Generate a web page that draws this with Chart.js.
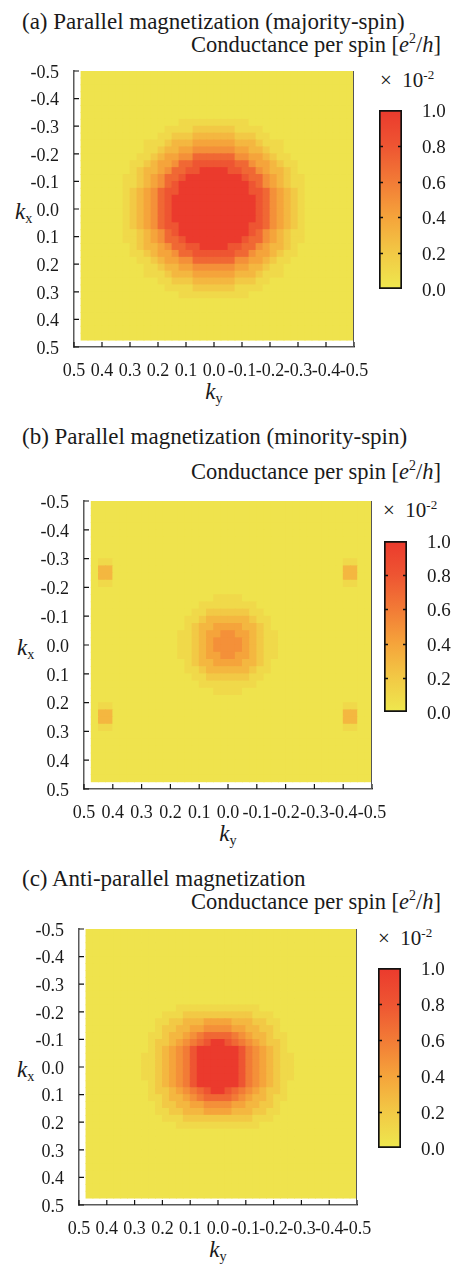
<!DOCTYPE html>
<html><head><meta charset="utf-8">
<script src="https://cdn.jsdelivr.net/npm/chart.js@4.4.1/dist/chart.umd.min.js"></script>
<style>
html,body{margin:0;padding:0;background:#fff}
body{width:459px;height:1264px;position:relative;overflow:hidden;font-family:"Liberation Serif","Times New Roman",Times,serif;color:#1a1a1a}
.t{position:absolute;white-space:nowrap;line-height:1}
.t sup{font-size:0.62em;vertical-align:0.62em;line-height:0}
.t sub{font-size:0.62em;vertical-align:-0.28em;line-height:0}
canvas{position:absolute;display:block}
</style></head><body>
<script>
// ---------------- DATA ----------------
// cell centres along k_x (rows, top -> bottom) and k_y (columns, left -> right)
const kxRows = [-0.4875,-0.4625,-0.4375,-0.4125,-0.3875,-0.3625,-0.3375,-0.3125,-0.2875,-0.2625,-0.2375,-0.2125,-0.1875,-0.1625,-0.1375,-0.1125,-0.0875,-0.0625,-0.0375,-0.0125,0.0125,0.0375,0.0625,0.0875,0.1125,0.1375,0.1625,0.1875,0.2125,0.2375,0.2625,0.2875,0.3125,0.3375,0.3625,0.3875,0.4125,0.4375,0.4625];
const kyCols = [0.4625,0.4375,0.4125,0.3875,0.3625,0.3375,0.3125,0.2875,0.2625,0.2375,0.2125,0.1875,0.1625,0.1375,0.1125,0.0875,0.0625,0.0375,0.0125,-0.0125,-0.0375,-0.0625,-0.0875,-0.1125,-0.1375,-0.1625,-0.1875,-0.2125,-0.2375,-0.2625,-0.2875,-0.3125,-0.3375,-0.3625,-0.3875,-0.4125,-0.4375,-0.4625,-0.4875];
const axisTicks = [-0.5,-0.4,-0.3,-0.2,-0.1,0,0.1,0.2,0.3,0.4,0.5];
const cbarTicks = [0,0.2,0.4,0.6,0.8,1.0];
// cell level codes -> conductance (x 10^-2 e^2/h)
const levelCodes  = "0123456789a";
const levelValues = [0.03,0.1,0.2,0.3,0.4,0.5,0.6,0.7,0.8,0.9,1.0];
// colour map
const cmapStops  = [0, 0.2, 0.4, 0.6, 0.8, 1.0];
const cmapColors = ['#EEE84E','#F2C945','#F5A43B','#F27B36','#EE5532','#EB3A2D'];

const Z = "000000000000000000000000000000000000000";
// (a) majority spin
const rowsA = [
Z,Z,Z,Z,Z,Z,Z,
"00000000000000"+"11111"+"11111"+"000000000000000",
"000000000000"+"1111222"+"2221111"+"0000000000000",
"00000000000"+"11222333"+"33322211"+"000000000000",
"000000000"+"1112333444"+"4443332111"+"0000000000",
"000000000"+"1123344555"+"5554433211"+"0000000000",
"00000000"+"11234455777"+"77755443211"+"000000000",
"0000000"+"112344577888"+"888775443211"+"00000000",
"0000000"+"1233457788aa"+"aa8877543321"+"00000000",
"000000"+"112345778aaaa"+"aaaa877543211"+"0000000",
"000000"+"11234578aaaaa"+"aaaaa87543211"+"0000000",
"000000"+"12345788aaaaa"+"aaaaa88754321"+"0000000",
"000000"+"1234578aaaaaa"+"aaaaaa8754321"+"0000000",
"000000"+"1234578aaaaaa"+"aaaaaa8754321"+"0000000",
"000000"+"1234578aaaaaa"+"aaaaaa8754321"+"0000000",
"000000"+"1234578aaaaaa"+"aaaaaa8754321"+"0000000",
"000000"+"12345788aaaaa"+"aaaaa88754321"+"0000000",
"000000"+"11234578aaaaa"+"aaaaa87543211"+"0000000",
"000000"+"112345778aaaa"+"aaaa877543211"+"0000000",
"0000000"+"1233457788aa"+"aa8877543321"+"00000000",
"0000000"+"112344577888"+"888775443211"+"00000000",
"00000000"+"11234455777"+"77755443211"+"000000000",
"000000000"+"1123344555"+"5554433211"+"0000000000",
"000000000"+"1112333444"+"4443332111"+"0000000000",
"00000000000"+"11222333"+"33322211"+"000000000000",
"000000000000"+"1111222"+"2221111"+"0000000000000",
"00000000000000"+"11111"+"11111"+"000000000000000",
Z,Z,Z,Z,Z,Z
];
// (b) minority spin
const rowsB = [
Z,Z,Z,Z,Z,Z,Z,Z,
"011"+"00000000000000000000000000000000"+"1100",
"033"+"00000000000000000000000000000000"+"3300",
"033"+"00000000000000000000000000000000"+"3300",
"011"+"00000000000000000000000000000000"+"1100",
Z,
"00000000000000000"+"11"+"11"+"000000000000000000",
"000000000000000"+"1111"+"1111"+"0000000000000000",
"00000000000000"+"11222"+"22211"+"000000000000000",
"0000000000000"+"112333"+"333211"+"00000000000000",
"0000000000000"+"123344"+"443321"+"00000000000000",
"000000000000"+"1123445"+"5443211"+"0000000000000",
"000000000000"+"1123455"+"5543211"+"0000000000000",
"000000000000"+"1123455"+"5543211"+"0000000000000",
"000000000000"+"1123445"+"5443211"+"0000000000000",
"0000000000000"+"123344"+"443321"+"00000000000000",
"0000000000000"+"112333"+"333211"+"00000000000000",
"00000000000000"+"11222"+"22211"+"000000000000000",
"000000000000000"+"1111"+"1111"+"0000000000000000",
"00000000000000000"+"11"+"11"+"000000000000000000",
Z,
"011"+"00000000000000000000000000000000"+"1100",
"033"+"00000000000000000000000000000000"+"3300",
"033"+"00000000000000000000000000000000"+"3300",
"011"+"00000000000000000000000000000000"+"1100",
Z,Z,Z,Z,Z,Z,Z
];
// (c) anti-parallel
const rowsC = [
Z,Z,Z,Z,Z,Z,Z,Z,Z,Z,Z,
"0000000000000"+"111111"+"111111"+"00000000000000",
"00000000000"+"11122222"+"22222111"+"000000000000",
"0000000000"+"112233344"+"443332211"+"00000000000",
"0000000000"+"122334455"+"554433221"+"00000000000",
"000000000"+"1123345677"+"7765433211"+"0000000000",
"000000000"+"122345678a"+"a876543221"+"0000000000",
"000000000"+"1234568aaa"+"aaa8654321"+"0000000000",
"00000000"+"11234568aaa"+"aaa86543211"+"000000000",
"00000000"+"11234568aaa"+"aaa86543211"+"000000000",
"00000000"+"11234568aaa"+"aaa86543211"+"000000000",
"00000000"+"11234568aaa"+"aaa86543211"+"000000000",
"000000000"+"1234568aaa"+"aaa8654321"+"0000000000",
"000000000"+"122345678a"+"a876543221"+"0000000000",
"000000000"+"1123345677"+"7765433211"+"0000000000",
"0000000000"+"122334455"+"554433221"+"00000000000",
"0000000000"+"112233344"+"443332211"+"00000000000",
"00000000000"+"11122222"+"22222111"+"000000000000",
"0000000000000"+"111111"+"111111"+"00000000000000",
Z,Z,Z,Z,Z,Z,Z,Z,Z,Z
];

// ---------------- LAYOUT ----------------
const FONT = "'Liberation Serif','Times New Roman',serif";
const TXT = '#1a1a1a';
const panels = [
  {rows:rowsA, title:'(a) Parallel magnetization (majority-spin)',
   plot:{l:74,r:354,t:71,b:347}, cbar:{l:379,r:402,t:110,b:289},
   titleY:22, condY:46, timesX:380, timesY:81, kxX:15, kyY:392},
  {rows:rowsB, title:'(b) Parallel magnetization (minority-spin)',
   plot:{l:84,r:372,t:501,b:789}, cbar:{l:384,r:407,t:541,b:712},
   titleY:437, condY:473, timesX:383, timesY:511, kxX:17, kyY:834},
  {rows:rowsC, title:'(c) Anti-parallel magnetization',
   plot:{l:79,r:357,t:929,b:1205}, cbar:{l:378,r:401,t:968,b:1148},
   titleY:879, condY:903, timesX:378, timesY:939, kxX:17, kyY:1250}
];

// ---------------- HELPERS ----------------
function hexRgb(h){return [parseInt(h.slice(1,3),16),parseInt(h.slice(3,5),16),parseInt(h.slice(5,7),16)];}
const cmapRgb = cmapColors.map(hexRgb);
function colorFor(v){
  v = Math.max(0, Math.min(1, v));
  for (let i = 1; i < cmapStops.length; i++) {
    if (v <= cmapStops[i]) {
      const f = (v - cmapStops[i-1]) / (cmapStops[i] - cmapStops[i-1]);
      const a = cmapRgb[i-1], b = cmapRgb[i];
      return 'rgb(' + a.map((c,k)=>Math.round(c + (b[k]-c)*f)).join(',') + ')';
    }
  }
  return cmapColors[cmapColors.length-1];
}
function fmt(v){ const r = Math.round(v*10)/10; return (Math.abs(r) < 1e-9 ? 0 : r).toFixed(1); }
function addText(html, o){
  const d = document.createElement('div');
  d.className = 't';
  d.innerHTML = html;
  d.style.fontSize = o.size + 'px';
  d.style.top = (o.cy - 0.52*o.size) + 'px';
  if (o.left !== undefined) d.style.left = o.left + 'px';
  if (o.right !== undefined) d.style.right = o.right + 'px';
  if (o.cx !== undefined) { d.style.left = o.cx + 'px'; d.style.transform = 'translateX(-50%)'; }
  document.body.appendChild(d);
}
function makeCanvas(left, top, w, h){
  const cv = document.createElement('canvas');
  cv.width = w; cv.height = h;
  cv.style.left = left + 'px'; cv.style.top = top + 'px';
  cv.style.width = w + 'px'; cv.style.height = h + 'px';
  document.body.appendChild(cv);
  return cv;
}

const frameTicks = {
  id:'frameTicks',
  afterDatasetsDraw(chart){
    const {ctx, chartArea:a, scales:{x, y}} = chart;
    ctx.save();
    ctx.strokeStyle = '#111'; ctx.lineWidth = 1.2;
    ctx.beginPath();
    x.ticks.forEach(t => { const px = x.getPixelForValue(t.value); ctx.moveTo(px, a.bottom); ctx.lineTo(px, a.bottom - 5); });
    y.ticks.forEach(t => { const py = y.getPixelForValue(t.value); ctx.moveTo(a.left, py); ctx.lineTo(a.left + 5, py); });
    ctx.stroke();
    ctx.strokeStyle = '#555'; ctx.lineWidth = 1;
    const rx = Math.round(x.getPixelForValue(axisTicks[0])) - 0.5;
    ctx.beginPath(); ctx.moveTo(rx, a.top); ctx.lineTo(rx, a.bottom); ctx.stroke();
    ctx.restore();
  }
};
const cbarInnerTicks = {
  id:'cbarInnerTicks',
  afterDatasetsDraw(chart){
    const {ctx, chartArea:a, scales:{y}} = chart;
    ctx.save(); ctx.strokeStyle = '#111'; ctx.lineWidth = 1.3;
    ctx.beginPath();
    cbarTicks.slice(1, -1).forEach(v => {
      const py = Math.round(y.getPixelForValue(v)) + 0.5;
      ctx.moveTo(a.left, py); ctx.lineTo(a.left + 4, py);
      ctx.moveTo(a.right, py); ctx.lineTo(a.right - 4, py);
    });
    ctx.stroke(); ctx.restore();
  }
};

Chart.defaults.font.family = FONT;
Chart.defaults.color = TXT;

function heatChart(p){
  const padTop = 25, padBot = 5, xAxH = 30, yAxW = 60;
  const top = p.plot.t - padTop;
  const H = (p.plot.b - p.plot.t) + padTop + xAxH + padBot;
  const cv = makeCanvas(0, top, 459, H);
  const pts = [];
  p.rows.forEach((row, i) => {
    const r = (row + Z).slice(0, kyCols.length);
    for (let j = 0; j < kyCols.length; j++) {
      const idx = Math.max(0, levelCodes.indexOf(r[j]));
      pts.push({x: kyCols[j], y: kxRows[i], v: levelValues[idx]});
    }
  });
  const cell = Math.abs(kyCols[1] - kyCols[0]);
  const tickFont = {family: FONT, size: 18};
  new Chart(cv, {
    type: 'scatter',
    data: {datasets: [{
      data: pts,
      pointStyle: 'rect',
      pointBorderWidth: 0,
      pointRadius: ctx => {
        const xs = ctx.chart.scales.x, ys = ctx.chart.scales.y;
        const w = Math.abs(xs.getPixelForValue(cell) - xs.getPixelForValue(0));
        const h = Math.abs(ys.getPixelForValue(cell) - ys.getPixelForValue(0));
        return (Math.max(w, h) + 0.8) / Math.SQRT2;
      },
      pointBackgroundColor: ctx => ctx.raw ? colorFor(ctx.raw.v) : cmapColors[0]
    }]},
    options: {
      responsive: false, animation: false, events: [],
      layout: {padding: {left: p.plot.l - yAxW, right: 459 - p.plot.r, top: padTop, bottom: padBot}},
      plugins: {legend: {display: false}, tooltip: {enabled: false}},
      scales: {
        x: {type: 'linear', reverse: true, min: axisTicks[0], max: axisTicks[axisTicks.length-1],
            afterBuildTicks: s => { s.ticks = axisTicks.map(v => ({value: v})); },
            afterFit: s => { s.height = xAxH; },
            grid: {display: false}, border: {display: true, color: '#5a5a5a', width: 1.5},
            ticks: {autoSkip: false, maxRotation: 0, minRotation: 0, padding: 5, color: TXT, font: tickFont, callback: v => fmt(v)}},
        y: {type: 'linear', reverse: true, min: axisTicks[0], max: axisTicks[axisTicks.length-1],
            afterBuildTicks: s => { s.ticks = axisTicks.map(v => ({value: v})); },
            afterFit: s => { s.width = yAxW; },
            grid: {display: false}, border: {display: true, color: '#5a5a5a', width: 1.5},
            ticks: {autoSkip: false, padding: 7, labelOffset: 2, color: TXT, font: tickFont, callback: v => fmt(v)}}
      }
    },
    plugins: [frameTicks]
  });
}

function cbarChart(p){
  const cb = p.cbar, padL = 4, padT = 32, padB = 32, axW = 50;
  const W = (cb.r - cb.l) + padL + axW, H = (cb.b - cb.t) + padT + padB;
  const cv = makeCanvas(cb.l - padL, cb.t - padT, W, H);
  new Chart(cv, {
    type: 'bar',
    data: {labels: [''], datasets: [{
      data: [[cbarTicks[0], cbarTicks[cbarTicks.length-1]]],
      backgroundColor: ctx => {
        const c = ctx.chart, ys = c.scales.y;
        if (!ys || !c.chartArea) return cmapColors[0];
        const g = c.ctx.createLinearGradient(0, ys.getPixelForValue(0), 0, ys.getPixelForValue(1));
        cmapStops.forEach((s, i) => g.addColorStop(s, cmapColors[i]));
        return g;
      },
      borderColor: '#111', borderWidth: 2, borderSkipped: false,
      barPercentage: 1, categoryPercentage: 1
    }]},
    options: {
      responsive: false, animation: false, events: [],
      layout: {padding: {left: padL, right: 0, top: padT, bottom: padB}},
      plugins: {legend: {display: false}, tooltip: {enabled: false}},
      scales: {
        x: {display: false},
        y: {position: 'right', min: 0, max: 1,
            afterBuildTicks: s => { s.ticks = cbarTicks.map(v => ({value: v})); },
            afterFit: s => { s.width = axW; },
            grid: {display: false}, border: {display: false},
            ticks: {padding: 12, labelOffset: 2, color: TXT, font: {family: FONT, size: 19}, callback: v => fmt(v)}}
      }
    },
    plugins: [cbarInnerTicks]
  });
}

panels.forEach(p => {
  addText(p.title, {left: 22, cy: p.titleY, size: 23});
  addText('Conductance per spin [<i>e</i><sup>2</sup>/<i>h</i>]', {right: 18, cy: p.condY, size: 22.5});
  addText('&times;&nbsp;&nbsp;10<sup>-2</sup>', {left: p.timesX, cy: p.timesY, size: 21});
  const midY = (p.plot.t + p.plot.b) / 2, midX = (p.plot.l + p.plot.r) / 2;
  addText('<i>k</i><sub>x</sub>', {left: p.kxX, cy: midY + 3, size: 23});
  addText('<i>k</i><sub>y</sub>', {cx: midX, cy: p.kyY, size: 23});
  heatChart(p);
  cbarChart(p);
});
</script>
</body></html>
